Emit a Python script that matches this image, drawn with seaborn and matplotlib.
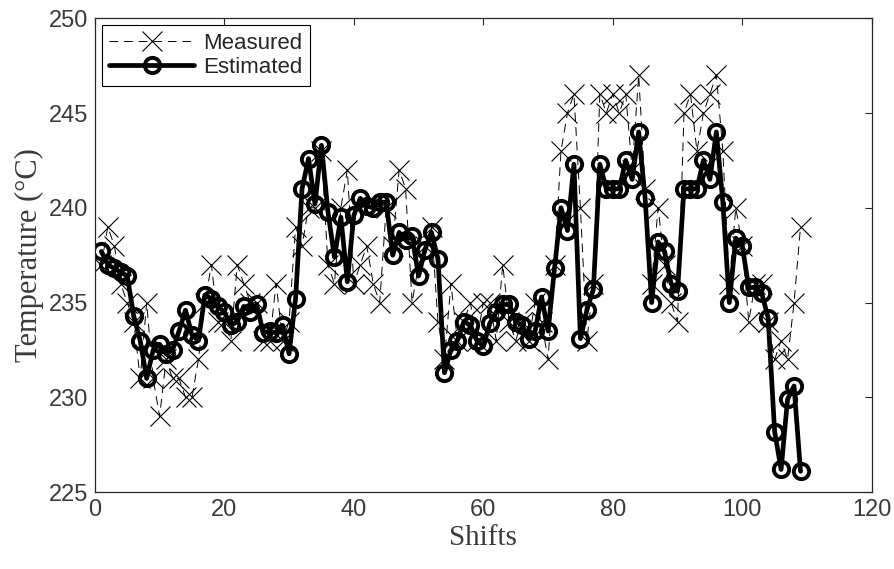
import numpy as np
import pandas as pd
import matplotlib
matplotlib.use("Agg")
import matplotlib.pyplot as plt
import seaborn as sns

shifts = list(range(1, 110))

measured = [237, 239, 238, 236, 235, 234, 231, 235, 231, 229,
            232, 231, 231, 230, 230, 232, 235, 237, 234, 234,
            233, 237, 236, 235, 235, 233, 233, 236, 233, 234,
            239, 238, 240, 240, 243, 237, 236, 240, 242, 236,
            237, 238, 236, 235, 240, 238, 242, 241, 235, 237,
            238, 239, 234, 232, 236, 233, 234, 235, 233, 235,
            235, 233, 237, 234, 233, 234, 233, 235, 234, 232,
            237, 243, 245, 246, 240, 233, 236, 246, 245, 246,
            245, 246, 242, 247, 241, 236, 240, 237, 235, 234,
            245, 246, 243, 245, 246, 247, 243, 236, 240, 238,
            234, 236, 236, 234, 232, 233, 232, 235, 239]

estimated = [237.7, 237.0, 236.8, 236.6, 236.4, 234.3, 233.0, 231.0, 232.5, 232.8,
             232.3, 232.5, 233.5, 234.6, 233.3, 233.0, 235.4, 235.2, 234.8, 234.5,
             233.8, 234.0, 234.8, 234.5, 234.9, 233.4, 233.5, 233.4, 233.8, 232.3,
             235.2, 241.0, 242.6, 240.2, 243.3, 239.8, 237.4, 239.5, 236.1, 239.6,
             240.5, 240.1, 240.0, 240.3, 240.3, 237.5, 238.7, 238.3, 238.5, 236.4,
             237.8, 238.7, 237.3, 231.3, 232.5, 233.0, 234.0, 233.8, 233.0, 232.7,
             233.9, 234.5, 234.9, 234.9, 234.0, 233.8, 233.1, 233.5, 235.3, 233.5,
             236.8, 240.0, 238.8, 242.3, 233.1, 234.6, 235.7, 242.3, 241.0, 241.0,
             241.0, 242.5, 241.5, 244.0, 240.5, 235.0, 238.2, 237.7, 236.0, 235.6,
             241.0, 241.0, 241.0, 242.5, 241.5, 244.0, 240.3, 235.0, 238.4, 238.0,
             235.8, 235.8, 235.5, 234.2, 228.2, 226.2, 229.9, 230.6, 226.1]

x_ticks = [0, 20, 40, 60, 80, 100, 120]
y_ticks = [225, 230, 235, 240, 245, 250]

df = pd.DataFrame({"Shifts": shifts, "Measured": measured, "Estimated": estimated})

sns.set_style("white")
plt.rcParams["font.family"] = ["Liberation Sans", "DejaVu Sans"]

fig = plt.figure(figsize=(8.95, 5.69), dpi=100)
ax = fig.add_axes([0.106, 0.135, 0.868, 0.833])

sns.lineplot(data=df, x="Shifts", y="Measured", ax=ax, color="black",
             linestyle=(0, (9, 6)), linewidth=0.7, marker="x", markersize=14,
             markeredgewidth=0.8, markeredgecolor="black", label="Measured")
sns.lineplot(data=df, x="Shifts", y="Estimated", ax=ax, color="black",
             linewidth=3.4, marker="o", markersize=11, markerfacecolor="none",
             markeredgecolor="black", markeredgewidth=2.8, label="Estimated")

ax.set_xlim(0, 120)
ax.set_ylim(225, 250)
ax.set_xticks(x_ticks)
ax.set_yticks(y_ticks)
ax.tick_params(direction="in", length=5, width=0.8, top=True, right=True,
               labelsize=17, colors="#262626", labelcolor="#3a3a3a", pad=5)
for s in ax.spines.values():
    s.set_color("#262626")
    s.set_linewidth(0.9)

ax.set_xlabel("Shifts", fontsize=21, family=["Liberation Serif"], color="#3a3a3a", labelpad=3)
ax.set_ylabel("Temperature (°C)", fontsize=22, family=["Liberation Serif"], color="#3a3a3a", labelpad=3)

leg = ax.legend(loc="upper left", fontsize=16, frameon=True, fancybox=False,
                edgecolor="black", framealpha=1, borderpad=0.35, handlelength=3.8,
                labelspacing=0.15, handletextpad=0.4, borderaxespad=0.3)
leg.get_frame().set_linewidth(0.8)

fig.savefig("out.png", dpi=100)
